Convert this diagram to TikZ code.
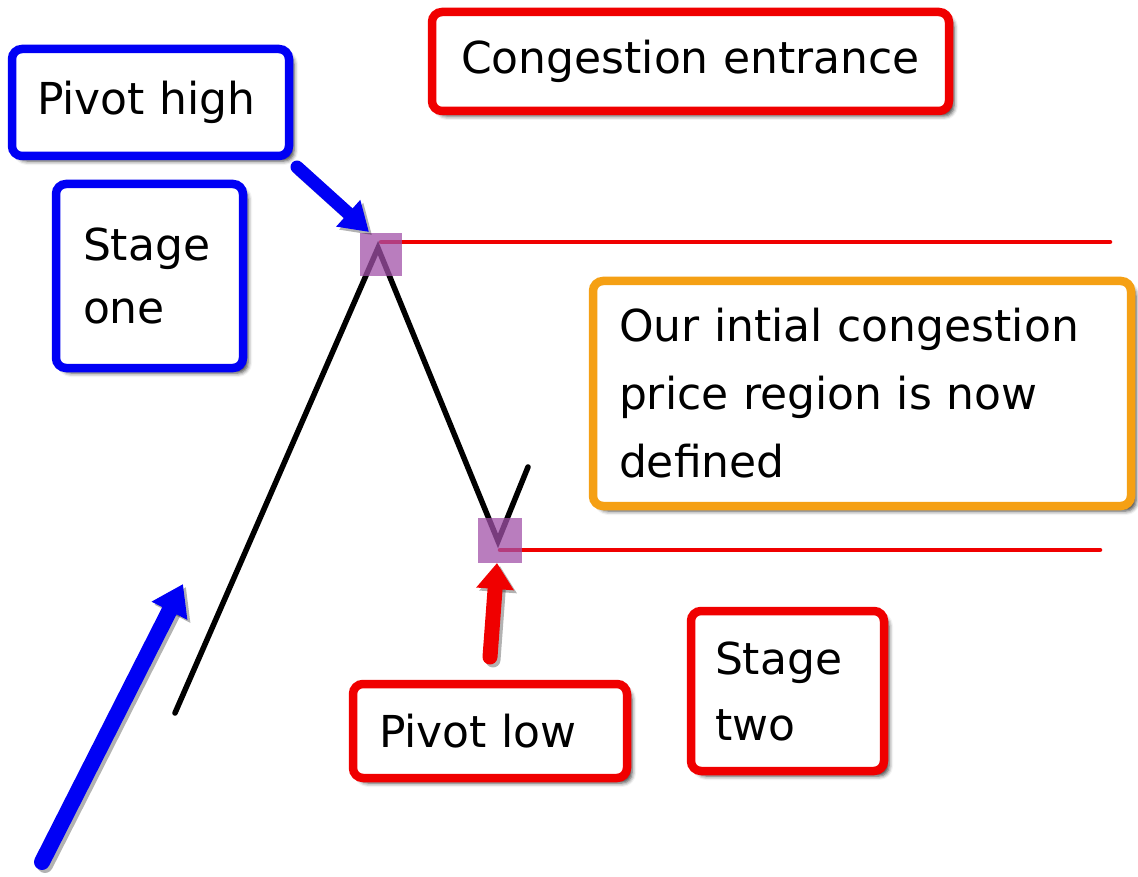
\documentclass[tikz,border=0pt]{standalone}
\usepackage{fontspec}
\setmainfont{DejaVu Sans}
\usetikzlibrary{arrows.meta,shadows.blur}
\definecolor{bblue}{RGB}{0,0,245}
\definecolor{rred}{RGB}{240,0,0}
\definecolor{oorange}{RGB}{245,160,20}
\definecolor{ppurple}{RGB}{161,81,168}
\begin{document}
\begin{tikzpicture}[x=1pt,y=-1pt,
  box/.style={draw=#1, line width=8.5pt, rounded corners=10pt, fill=white,
    blur shadow={shadow xshift=5pt, shadow yshift=-5pt, shadow blur radius=4pt, shadow opacity=75},
    inner ysep=0pt, align=left, font=\fontsize{44}{68}\selectfont},
  pivotline/.style={line width=5.5pt, line cap=round},
  levelline/.style={draw=rred, line width=4.5pt, line cap=round},
  marker/.style={inner sep=0pt, minimum size=#1},
  markerfill/.style={fill=ppurple, fill opacity=0.75},
  fatarrow/.style={line width=#1, line cap=round},
  arrowshadow/.style={draw=black, opacity=0.3, transform canvas={shift={(3pt,-3pt)}}}
]
\useasboundingbox (0,0) rectangle (1138,877);

% price path
\coordinate (p0) at (175,713);
\coordinate (p1) at (378,248);
\coordinate (p2) at (498,541);
\coordinate (p3) at (528,467);
\coordinate (hiEnd) at (1110,242);
\coordinate (loEnd) at (1100,550);

\node[marker=42pt] (sqH) at (381,254.5) {};
\node[marker=44pt] (sqL) at (500,540.5) {};

\draw[levelline] (sqH.center |- hiEnd) -- (hiEnd);
\draw[levelline] (sqL.center |- loEnd) -- (loEnd);
\draw[pivotline] (p0) -- (p1) -- (p2) -- (p3);

% markers on top
\fill[markerfill] (sqH.south west) rectangle (sqH.north east);
\fill[markerfill] (sqL.south west) rectangle (sqL.north east);

% boxes
\node[box=bblue, minimum width=277pt, minimum height=107pt, inner xsep=25pt, text width=227pt] (ph) at (150.5,102.5) {Pivot high};
\node[box=bblue, minimum width=187pt, minimum height=184pt, inner xsep=27pt, text width=133pt, font=\fontsize{44}{63}\selectfont] (s1) at (149.5,276) {Stage\\one};
\node[box=rred, minimum width=517pt, minimum height=99pt, inner xsep=20pt, text width=477pt, align=center] (ce) at (690.5,61.5) {Congestion entrance};
\node[box=oorange, minimum width=538pt, minimum height=225pt, inner xsep=26pt, text width=486pt] (or) at (862,393.5) {Our intial congestion\\price region is now\\defined};
\node[box=rred, minimum width=274pt, minimum height=94pt, inner xsep=26pt, text width=222pt] (pl) at (490,731) {Pivot low};
\node[box=rred, minimum width=193pt, minimum height=160pt, inner xsep=24pt, text width=145pt, font=\fontsize{44}{66}\selectfont] (s2) at (787.5,691) {Stage\\two};

% arrows
\coordinate (ahS) at (297,167);
\coordinate (ahE) at (369,232);
\coordinate (alS) at (490,657);
\coordinate (alE) at (497,563);
\coordinate (auS) at (42,862);
\coordinate (auE) at (183,584);

\draw[arrowshadow, fatarrow=13pt, -{Triangle[width=34pt,length=28pt]}] (ahS) -- (ahE);
\draw[arrowshadow, fatarrow=15pt, -{Triangle[width=36pt,length=26pt]}] (alS) -- (alE);
\draw[arrowshadow, fatarrow=16pt, -{Triangle[width=38pt,length=30pt]}] (auS) -- (auE);

\draw[bblue, fatarrow=13pt, -{Triangle[width=34pt,length=28pt]}] (ahS) -- (ahE);
\draw[rred, fatarrow=15pt, -{Triangle[width=36pt,length=26pt]}] (alS) -- (alE);
\draw[bblue, fatarrow=16pt, -{Triangle[width=38pt,length=30pt]}] (auS) -- (auE);
\end{tikzpicture}
\end{document}
